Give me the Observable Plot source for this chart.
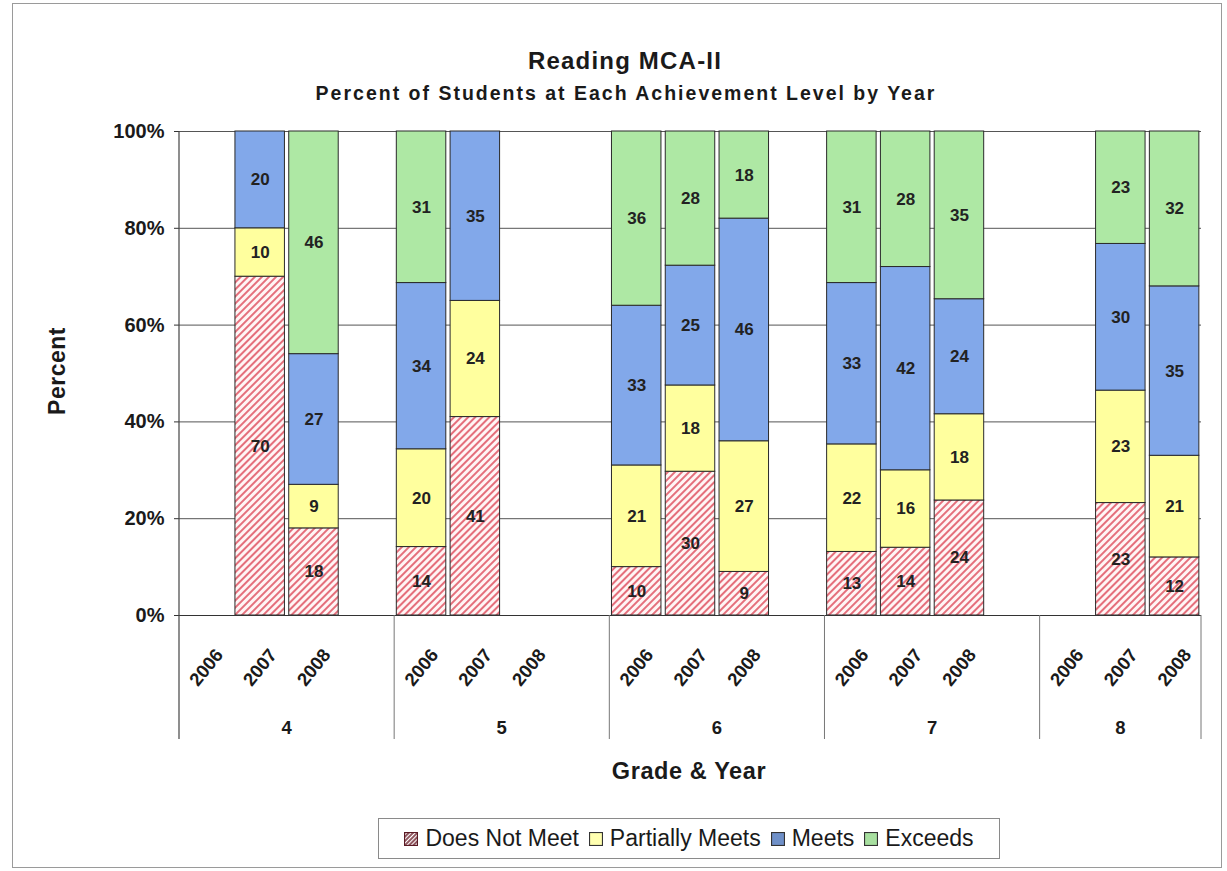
<!DOCTYPE html>
<html>
<head>
<meta charset="utf-8">
<script src="https://cdn.jsdelivr.net/npm/d3@7"></script>
<script src="https://cdn.jsdelivr.net/npm/@observablehq/plot@0.6"></script>
<style>
  body { margin: 0; background: #fff; }
  #wrap { position: relative; width: 1227px; height: 871px; font-family: Arial, "Liberation Sans", sans-serif; color: #1a1a1a; }
  #frame { position: absolute; left: 12px; top: 3px; width: 1210px; height: 865px; border: 1px solid #9a9a9a; box-sizing: border-box; }
  #chart { position: absolute; left: 0; top: 0; }
  .t { position: absolute; font-weight: bold; white-space: nowrap; transform: translate(-50%, -50%); }
  #legend { position: absolute; left: 378px; top: 818px; width: 622px; height: 41px; border: 1px solid #8a8a8a; box-sizing: border-box;
            display: flex; align-items: center; justify-content: center; font-size: 23px; }
  .li { display: flex; align-items: center; margin: 0 5px; }
</style>
</head>
<body>
<svg width="0" height="0" style="position:absolute">
  <defs>
    <pattern id="hatch" patternUnits="userSpaceOnUse" width="5" height="5" patternTransform="rotate(45)">
      <rect width="5" height="5" fill="#fff5f5"></rect>
      <line x1="1" y1="0" x2="1" y2="5" stroke="#e2606e" stroke-width="1.8"></line>
    </pattern>
    <pattern id="hatchL" patternUnits="userSpaceOnUse" width="3" height="3" patternTransform="rotate(45)">
      <rect width="3" height="3" fill="#fff"></rect>
      <line x1="1" y1="0" x2="1" y2="3" stroke="#6b1e2a" stroke-width="1.5"></line>
    </pattern>
  </defs>
</svg>
<div id="wrap">
  <div id="frame"></div>
  <div id="chart"></div>
  <div class="t" style="left:625px; top:61px; font-size:24px; letter-spacing:1.2px;">Reading MCA-II</div>
  <div class="t" style="left:626px; top:93px; font-size:19.5px; letter-spacing:2px;">Percent of Students at Each Achievement Level by Year</div>
  <div class="t" style="left:57px; top:371px; font-size:23px; letter-spacing:0.5px; transform: translate(-50%, -50%) rotate(-90deg);">Percent</div>
  <div class="t" style="left:689px; top:771px; font-size:23.5px; letter-spacing:0.6px;">Grade &amp; Year</div>
  <div id="legend"></div>
</div>
<script>
// ---- data ----
const grades = ["4", "5", "6", "7", "8"];
const years = ["2006", "2007", "2008"];
const levels = ["Does Not Meet", "Partially Meets", "Meets", "Exceeds"];
// order: grade 4 (2006,2007,2008), grade 5 (...), 6, 7, 8
const doesNotMeet    = [null, 70, 18,  14, 41, null,  10, 30,  9,  13, 14, 24,  null, 23, 12];
const partiallyMeets = [null, 10,  9,  20, 24, null,  21, 18, 27,  22, 16, 18,  null, 23, 21];
const meets          = [null, 20, 27,  34, 35, null,  33, 25, 46,  33, 42, 24,  null, 30, 35];
const exceeds        = [null, null, 46, 31, null, null, 36, 28, 18, 31, 28, 35, null, 23, 32];
const yTicks = [0, 0.2, 0.4, 0.6, 0.8, 1];
const levelColors = ["url(#hatch)", "#ffff9e", "#82a8ea", "#aee8a4"];
const legendSwatches = ["url(#hatchL)", "#ffffb0", "#6f90c8", "#a8e0a0"];

// ---- build table ----
const series = [doesNotMeet, partiallyMeets, meets, exceeds];
const rows = [];
grades.forEach((g, gi) => years.forEach((y, yi) => {
  const i = gi * 3 + yi;
  levels.forEach((l, li) => {
    const v = series[li][i];
    if (v != null) rows.push({slot: g + "-" + y, grade: g, year: y, level: l, value: v});
  });
}));
const slots = [];
grades.forEach((g, gi) => {
  years.forEach(y => slots.push(g + "-" + y));
  if (gi < grades.length - 1) slots.push(g + "-gap");
});
const yearSlots = slots.filter(s => !s.endsWith("gap"));
const PAD = 0.08;

const decor = (index, scales, values, dimensions) => {
  const x = scales.x;
  const step = x(slots[1]) - x(slots[0]);
  const off = step * PAD / 2;
  const bottom = dimensions.height - dimensions.marginBottom;
  const top = dimensions.marginTop;
  const g = d3.create("svg:g");
  const starts = grades.map(gr => x(gr + "-2006") - off);
  const ends = grades.map((gr, gi) => gi < grades.length - 1 ? x(grades[gi + 1] + "-2006") - off : x(gr + "-2008") - off + step);
  // axis line
  g.append("line").attr("x1", starts[0]).attr("x2", starts[0]).attr("y1", top).attr("y2", bottom + 124)
    .attr("stroke", "#444").attr("stroke-width", 1.2);
  // group separators
  starts.slice(1).concat([ends[ends.length - 1]]).forEach(sx => {
    g.append("line").attr("x1", sx).attr("x2", sx).attr("y1", bottom).attr("y2", bottom + 124)
      .attr("stroke", "#777").attr("stroke-width", 1);
  });
  // group labels
  grades.forEach((gr, gi) => {
    g.append("text").attr("x", (starts[gi] + ends[gi]) / 2).attr("y", bottom + 119)
      .attr("text-anchor", "middle").attr("font-size", 18.5).attr("font-weight", "bold")
      .attr("fill", "#1a1a1a").text(gr);
  });
  return g.node();
};

const chart = Plot.plot({
  width: 1227,
  height: 871,
  marginLeft: 179,
  marginRight: 26,
  marginTop: 131,
  marginBottom: 256,
  style: {fontFamily: "Arial, 'Liberation Sans', sans-serif", background: "transparent", overflow: "visible"},
  x: {domain: slots, paddingInner: PAD, paddingOuter: PAD / 2, round: false, axis: null},
  y: {domain: [0, 1], axis: null},
  color: {domain: levels, range: levelColors},
  marks: [
    Plot.ruleY(yTicks.slice(1), {stroke: "#555", strokeWidth: 1}),
    Plot.barY(rows, Plot.stackY({offset: "normalize", order: levels, x: "slot", y: "value", z: "level", fill: "level", stroke: "#2a2a2a", strokeWidth: 1})),
    Plot.text(rows, Plot.stackY({offset: "normalize", order: levels, x: "slot", y: "value", z: "level", text: d => String(d.value),
      fontSize: 17, fontWeight: "bold", fill: "#222"})),
    Plot.ruleY([0], {stroke: "#333", strokeWidth: 1.2}),
    Plot.axisY({ticks: yTicks, tickFormat: d3.format(".0%"), tickSize: 5, tickPadding: 10, fontSize: 20, fontWeight: "bold",
      label: null, stroke: "#333", fill: "#1a1a1a"}),
    Plot.axisX({ticks: yearSlots, tickFormat: d => d.split("-")[1], tickSize: 0, tickRotate: -51, tickPadding: 52,
      textAnchor: "middle", lineAnchor: "middle", fontSize: 18.5, fontWeight: "bold", label: null, fill: "#1a1a1a"}),
    decor
  ]
});
document.getElementById("chart").appendChild(chart);

// legend
const leg = document.getElementById("legend");
levels.forEach((l, i) => {
  const item = document.createElement("div");
  item.className = "li";
  const sw = document.createElementNS("http://www.w3.org/2000/svg", "svg");
  sw.setAttribute("width", 14); sw.setAttribute("height", 14);
  sw.style.marginRight = "7px";
  const r = document.createElementNS("http://www.w3.org/2000/svg", "rect");
  r.setAttribute("x", 0.5); r.setAttribute("y", 0.5); r.setAttribute("width", 13); r.setAttribute("height", 13);
  r.setAttribute("fill", legendSwatches[i]); r.setAttribute("stroke", i === 0 ? "#5a1a24" : "#333"); r.setAttribute("stroke-width", 1.2);
  sw.appendChild(r);
  item.appendChild(sw);
  const tx = document.createElement("span");
  tx.textContent = l;
  item.appendChild(tx);
  leg.appendChild(item);
});
</script>
</body>
</html>
